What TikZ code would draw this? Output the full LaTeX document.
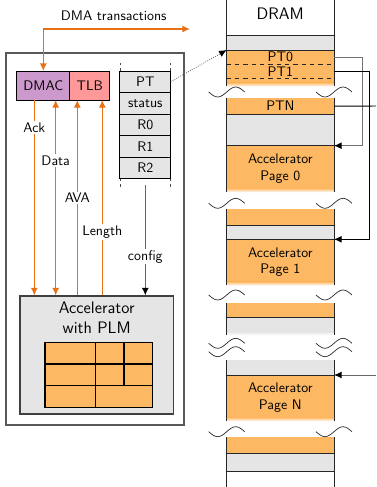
\documentclass[tikz,border=0pt]{standalone}
\usetikzlibrary{positioning,arrows.meta}

\newcommand{\pxu}{0.72pt}
\definecolor{pageorange}{RGB}{253,184,99}
\definecolor{memgray}{RGB}{229,229,229}
\definecolor{dmacviolet}{RGB}{204,153,204}
\definecolor{tlbpink}{RGB}{255,153,153}
\definecolor{sigorange}{RGB}{232,112,20}

% wavy cut on both edges of the DRAM column
\newcommand{\drambreak}[1]{%
  \draw[wave] (208.7,#1) sin ++(9,5) cos ++(9,-5) sin ++(9,-5) cos ++(9,5);
  \draw[wave] (316,#1) sin ++(9,5) cos ++(9,-5) sin ++(9,-5) cos ++(9,5);}

\begin{document}
\begin{tikzpicture}[x=\pxu,y=-\pxu, >={Latex[length=5.5pt,width=5pt]}]
  \tikzstyle{every node}=[font=\sffamily]
  \tikzstyle{unit}=[draw, line width=0.7pt, inner sep=0pt, outer sep=0pt, minimum height=29*\pxu]
  \tikzstyle{reg}=[draw, fill=memgray, line width=0.7pt, inner sep=0pt, outer sep=0pt, minimum width=50.7*\pxu, minimum height=21.5*\pxu]
  \tikzstyle{seg}=[inner sep=0pt, outer sep=0pt, minimum width=107.3*\pxu, anchor=north west, align=center]
  \tikzstyle{sig}=[sigorange, line width=0.8pt]
  \tikzstyle{siglabel}=[fill=white, text=black, inner sep=1pt]
  \tikzstyle{sep}=[black!85, line width=0.6pt]
  \tikzstyle{wave}=[black!85, line width=0.5pt]
  \tikzstyle{fadeout}=[top color=pageorange, bottom color=white]

  \useasboundingbox (0,0) rectangle (376,487);

  % accelerator tile
  \draw[black!65, line width=1pt] (6,53) rectangle (184,425);

  \node[unit, fill=dmacviolet, minimum width=53.3*\pxu] (dmac) at (43.3,85.5) {DMAC};
  \node[unit, fill=tlbpink, minimum width=39.7*\pxu, right=0pt of dmac] (tlb) {TLB};

  \node[reg] (pt) at (145.3,81.8) {PT};
  \node[reg, below=0pt of pt] (status) {status};
  \node[reg, below=0pt of status] (r0) {R0};
  \node[reg, below=0pt of r0] (r1) {R1};
  \node[reg, below=0pt of r1] (r2) {R2};
  \draw[black!70, dash pattern=on 2pt off 2pt] (pt.north west) -- ++(0,-10) (pt.north east) -- ++(0,-10);
  \draw[black!70, dash pattern=on 2pt off 2pt] (r2.south west) -- ++(0,9) (r2.south east) -- ++(0,9);

  \node[draw=black!75, fill=memgray, line width=0.8pt, inner sep=0pt, minimum width=153.3*\pxu, minimum height=118*\pxu] (accel) at (96.7,355) {};
  \node[font=\sffamily\large, align=center] (acctext) at (96.7,318) {Accelerator\\with PLM};

  % PLM banks
  \draw[fill=pageorange, line width=0.8pt] (45,342.7) rectangle (152.3,407.3);
  \draw[line width=0.8pt] (45,364) -- (152.3,364) (45,385.7) -- (152.3,385.7)
    (95.3,342.7) -- (95.3,407.3) (124,342.7) -- (124,385.7);

  % signals between DMAC/TLB and the accelerator
  \coordinate (ack) at (34.3,0);
  \coordinate (data) at (55.7,0);
  \coordinate (ava) at (77.3,0);
  \coordinate (len) at (102.3,0);
  \draw[sig,->] (dmac.south -| ack) -- node[siglabel, pos=0.14] {Ack} (accel.north -| ack);
  \draw[sig,<->] (dmac.south -| data) -- node[siglabel, pos=0.31] {Data} (accel.north -| data);
  \draw[sig,->] (accel.north -| ava) -- node[siglabel, pos=0.5] {AVA} (tlb.south -| ava);
  \draw[sig,->] (accel.north -| len) -- node[siglabel, pos=0.325] {Length} (tlb.south -| len);
  \draw[black!60, line width=0.8pt, -{Latex[black,length=5.5pt,width=5pt]}] ([yshift=-4.5pt]r2.south) -- node[siglabel, pos=0.65] {config} (accel.north -| r2.south);

  \coordinate (dmaout) at (190,29);
  \draw[sig,<->] (dmac.north) |- node[pos=0.74, above, text=black, yshift=2pt] {DMA transactions} (dmaout);

  % DRAM column
  \node[font=\sffamily\large] (dram) at (280.3,14) {DRAM};
  \node[seg, fill=memgray, minimum height=14.3*\pxu] (g0) at (226.7,35.7) {};
  \fill[pageorange] (226.7,50) rectangle (334,86);
  \node[seg, minimum height=14.3*\pxu] (pt0) at (226.7,50) {PT0};
  \node[seg, minimum height=14*\pxu] (pt1) at (226.7,64.3) {PT1};
  \node[seg, fill=pageorange, minimum height=16.3*\pxu] (ptn) at (226.7,98) {PTN};
  \node[seg, fill=memgray, minimum height=31.4*\pxu] (g1) at (226.7,114.3) {};
  \node[seg, fill=pageorange, minimum height=46*\pxu] (page0) at (226.7,145.7) {Accelerator\\Page 0};
  \node[seg, fill=pageorange, minimum height=15.7*\pxu] (o1) at (226.7,209.3) {};
  \node[seg, fill=memgray, minimum height=14.3*\pxu] (g2) at (226.7,225) {};
  \node[seg, fill=pageorange, minimum height=45.7*\pxu] (page1) at (226.7,239.3) {Accelerator\\Page 1};
  \node[seg, fill=pageorange, minimum height=14.6*\pxu] (o2) at (226.7,302.7) {};
  \node[seg, fill=memgray, minimum height=17.7*\pxu] (g3) at (226.7,317.3) {};
  \node[seg, fill=memgray, minimum height=15*\pxu] (g4) at (226.7,360) {};
  \node[seg, fill=pageorange, minimum height=45.7*\pxu] (pageN) at (226.7,375) {Accelerator\\Page N};
  \node[seg, fill=pageorange, minimum height=16*\pxu] (o3) at (226.7,437.3) {};
  \node[seg, fill=memgray, minimum height=18.4*\pxu] (g5) at (226.7,453.3) {};

  \shade[fadeout] (226.7,82.5) rectangle (334,86.5);
  \shade[fadeout] (226.7,188.2) rectangle (334,192.2);
  \shade[fadeout] (226.7,281.5) rectangle (334,285.5);
  \shade[fadeout] (226.7,417.2) rectangle (334,421.2);
  \shade[top color=memgray, bottom color=white] (226.7,331.5) rectangle (334,335.5);

  \foreach \y in {35.7,50,114.3,145.7,225,239.3,317.3,375,453.3,471.7}
    \draw[sep] (226.7,\y) -- (334,\y);
  \draw[sep, dashed] (pt1.north west) -- (pt1.north east) (pt1.south west) -- (pt1.south east);
  \foreach \a/\b in {0/86,98/191.7,209.3/285,302.7/335,360/420.7,437.3/487}
    \draw[sep] (226.7,\a) -- (226.7,\b) (334,\a) -- (334,\b);
  \foreach \y in {92,203.3,295,343.3,351.7,431.7}
    \drambreak{\y};

  % page table pointers
  \draw[black!60, line width=0.6pt, densely dotted, -{Latex[black,length=5.5pt,width=5pt]}] (pt.east) -- (pt0.north west);
  \draw[black!55, line width=0.7pt, -{Latex[black,length=5.5pt,width=5pt]}] (pt0.east) -- ++(28.7,0) |- (page0.north east);
  \draw[line width=0.7pt, ->] (pt1.east) -- ++(35.3,0) |- (page1.north east);
  \coordinate (outN) at (376,106);
  \coordinate (inN) at (376,375);
  \draw[line width=0.7pt] (ptn.east) -- (outN);
  \draw[black!60, line width=0.7pt, -{Latex[black,length=5.5pt,width=5pt]}] (inN) -- (pageN.north east);
\end{tikzpicture}
\end{document}
